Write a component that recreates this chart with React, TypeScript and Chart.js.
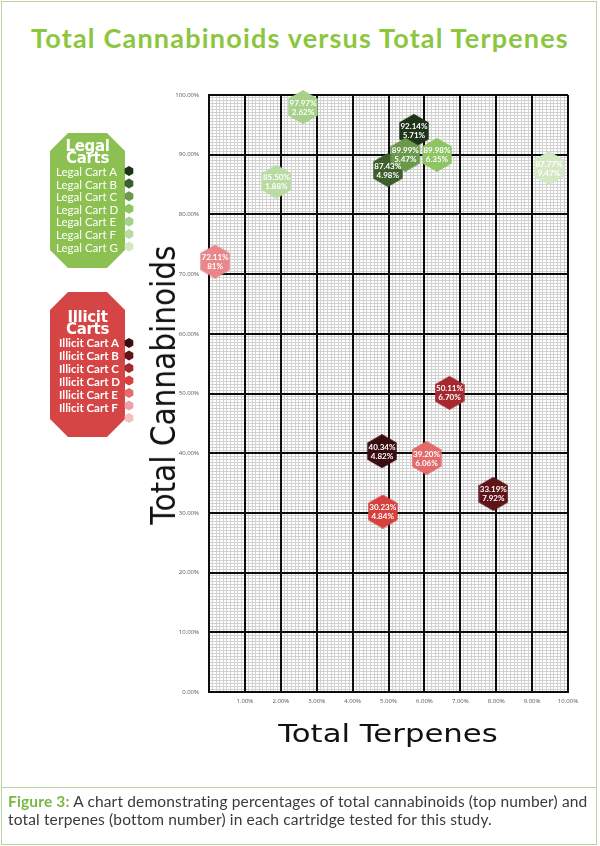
import React, { useEffect, useRef } from "react";
import { Chart, registerables } from "chart.js";
Chart.register(...registerables);

// ---------- data ----------
const xTickValues = [0, 1, 2, 3, 4, 5, 6, 7, 8, 9, 10];
const yTickValues = [0, 10, 20, 30, 40, 50, 60, 70, 80, 90, 100];

const legalNames = ["Legal Cart A", "Legal Cart B", "Legal Cart C", "Legal Cart D", "Legal Cart E", "Legal Cart F", "Legal Cart G"];
const legalCannabinoidLabels = ["92.14%", "87.43%", "89.99%", "89.98%", "97.97%", "85.50%", "87.77%"];
const legalTerpeneLabels = ["5.71%", "4.98%", "5.47%", "6.35%", "2.62%", "1.88%", "9.47%"];
// positions as plotted in the figure (terpenes %, cannabinoids %)
const legalTerpenes = [5.71, 4.98, 5.47, 6.35, 2.62, 1.88, 9.47];
const legalCannabinoids = [94.0, 87.43, 89.99, 89.98, 97.97, 85.5, 87.77];
const legalColors = ["#1f3318", "#3e5f2d", "#6a994c", "#8ec461", "#a7d08a", "#b9dba2", "#d4e8c4"];

const illicitNames = ["Illicit Cart A", "Illicit Cart B", "Illicit Cart C", "Illicit Cart D", "Illicit Cart E", "Illicit Cart F"];
const illicitCannabinoidLabels = ["40.34%", "33.19%", "50.11%", "30.23%", "39.20%", "72.11%"];
const illicitTerpeneLabels = ["4.82%", "7.92%", "6.70%", "4.84%", "6.06%", "81%"];
const illicitTerpenes = [4.82, 7.92, 6.7, 4.84, 6.06, 0.17];
const illicitCannabinoids = [40.34, 33.19, 50.11, 30.23, 39.2, 72.11];
const illicitColors = ["#3a0c10", "#5e1418", "#a4282e", "#d6403d", "#e26b6b", "#e8868a"];
const illicitLegendColors = ["#3a0c10", "#5e1418", "#a4282e", "#d6403d", "#e26b6b", "#eba1a5", "#f2bfc2"];

const GREEN = "#8cc63f";
const LEGAL_BOX = "#8cc152";
const ILLICIT_BOX = "#d64545";
const FRAME = "#b9d3a5";

function hexCanvas(color: string, r: number) {
  const w = Math.ceil(r * Math.sqrt(3));
  const h = Math.ceil(r * 2);
  const c = document.createElement("canvas");
  c.width = w;
  c.height = h;
  const ctx = c.getContext("2d")!;
  ctx.fillStyle = color;
  ctx.beginPath();
  for (let k = 0; k < 6; k++) {
    const a = (Math.PI / 180) * (-90 + 60 * k);
    const px = w / 2 + r * Math.cos(a);
    const py = h / 2 + r * Math.sin(a);
    if (k === 0) ctx.moveTo(px, py);
    else ctx.lineTo(px, py);
  }
  ctx.closePath();
  ctx.fill();
  return c;
}

const hexLabelPlugin = {
  id: "hexLabels",
  afterDatasetDraw(chart: any, args: any) {
    const ds = chart.data.datasets[args.index];
    const meta = args.meta;
    const ctx = chart.ctx;
    ctx.save();
    ctx.fillStyle = "#ffffff";
    ctx.textAlign = "center";
    ctx.textBaseline = "middle";
    ctx.font = "bold 8px Lato, 'Open Sans', sans-serif";
    meta.data.forEach((pt: any, i: number) => {
      ctx.fillText(ds.topLabels[i], pt.x, pt.y - 4);
      ctx.fillText(ds.bottomLabels[i], pt.x, pt.y + 5);
    });
    ctx.restore();
  },
};

function hexPoints(cx: number, cy: number, r: number) {
  const pts: string[] = [];
  for (let k = 0; k < 6; k++) {
    const a = (Math.PI / 180) * (-90 + 60 * k);
    pts.push(`${(cx + r * Math.cos(a)).toFixed(2)},${(cy + r * Math.sin(a)).toFixed(2)}`);
  }
  return pts.join(" ");
}

function ChartCanvas() {
  const ref = useRef<HTMLCanvasElement | null>(null);
  useEffect(() => {
    if (!ref.current) return;
    const legalImgs = legalColors.map((c) => hexCanvas(c, 17));
    const illicitImgs = illicitColors.map((c) => hexCanvas(c, 17));
    const minorGrid = { color: "#d2d2d2", lineWidth: 1, drawTicks: false, z: -2 };
    const chart = new Chart(ref.current, {
      type: "scatter",
      data: {
        datasets: [
          {
            label: "Legal Carts",
            data: legalTerpenes.map((x, i) => ({ x, y: legalCannabinoids[i] })),
            xAxisID: "x",
            yAxisID: "y",
            pointStyle: legalImgs as any,
            pointRadius: 15,
            clip: false as any,
            topLabels: legalCannabinoidLabels,
            bottomLabels: legalTerpeneLabels,
          } as any,
          {
            label: "Illicit Carts",
            data: illicitTerpenes.map((x, i) => ({ x, y: illicitCannabinoids[i] })),
            xAxisID: "x",
            yAxisID: "y",
            pointStyle: illicitImgs as any,
            pointRadius: 15,
            clip: false as any,
            topLabels: illicitCannabinoidLabels,
            bottomLabels: illicitTerpeneLabels,
          } as any,
        ],
      },
      options: {
        responsive: false,
        animation: false,
        devicePixelRatio: 1,
        events: [],
        layout: { padding: { left: 150, right: 32, top: 95, bottom: 134 } },
        plugins: { legend: { display: false }, tooltip: { enabled: false } },
        scales: {
          x: {
            type: "linear",
            position: "bottom",
            min: xTickValues[0],
            max: xTickValues[xTickValues.length - 1],
            afterBuildTicks: (s: any) => { s.ticks = xTickValues.map((v) => ({ value: v })); },
            ticks: {
              callback: (v: any) => (v === 0 ? "" : Number(v).toFixed(2) + "%"),
              font: { size: 6, family: "'Open Sans', sans-serif" },
              color: "#555",
              padding: 6,
              maxRotation: 0,
              autoSkip: false,
            },
            grid: { color: "#0d0d0d", lineWidth: 2, drawTicks: false, z: -1 },
            border: { color: "#0d0d0d", width: 2 },
            afterFit: (s: any) => { s.height = 20; },
          },
          y: {
            type: "linear",
            position: "left",
            min: yTickValues[0],
            max: yTickValues[yTickValues.length - 1],
            afterBuildTicks: (s: any) => { s.ticks = yTickValues.map((v) => ({ value: v })); },
            ticks: {
              callback: (v: any) => Number(v).toFixed(2) + "%",
              font: { size: 6, family: "'Open Sans', sans-serif" },
              color: "#555",
              padding: 10,
              autoSkip: false,
            },
            grid: { color: "#0d0d0d", lineWidth: 2, drawTicks: false, z: -1 },
            border: { color: "#0d0d0d", width: 2 },
            afterFit: (s: any) => { s.width = 59; },
          },
          xm: {
            type: "linear",
            position: "bottom",
            min: 0,
            max: 100,
            ticks: { display: false, stepSize: 1 },
            grid: minorGrid,
            border: { display: false },
            afterFit: (s: any) => { s.height = 0; },
          },
          ym: {
            type: "linear",
            position: "left",
            min: 0,
            max: 200,
            ticks: { display: false, stepSize: 1 },
            grid: minorGrid,
            border: { display: false },
            afterFit: (s: any) => { s.width = 0; },
          },
        } as any,
      },
      plugins: [hexLabelPlugin as any],
    });
    return () => chart.destroy();
  }, []);
  return (
    <canvas
      ref={ref}
      width={600}
      height={846}
      style={{ position: "absolute", left: 0, top: 0, width: 600, height: 846 }}
    />
  );
}

function LegendBox(props: {
  top: number;
  bottom: number;
  color: string;
  title: string;
  names: string[];
  markerColors: string[];
  titleY: number[];
  rowStart: number;
  rowStep: number;
  markerStart: number;
  markerStep: number;
  textLeft: number;
  itemWeight: number;
  itemSize: number;
}) {
  const { top, bottom, color } = props;
  const l = 50, r = 125, c = 18;
  const poly = `${l + c},${top} ${r - c},${top} ${r},${top + c} ${r},${bottom - c} ${r - c},${bottom} ${l + c},${bottom} ${l},${bottom - c} ${l},${top + c}`;
  return (
    <>
      <svg width={600} height={846} style={{ position: "absolute", left: 0, top: 0 }}>
        <polygon points={poly} fill={color} />
        {props.markerColors.map((mc, i) => (
          <polygon key={i} points={hexPoints(129, props.markerStart + i * props.markerStep, 5)} fill={mc} />
        ))}
      </svg>
      {[props.title, "Carts"].map((t, k) => (
        <div
          key={"t" + k}
          style={{
            position: "absolute",
            left: l,
            width: r - l,
            top: props.titleY[k] - 8,
            height: 16,
            lineHeight: "16px",
            textAlign: "center",
            color: "#fff",
            fontFamily: "'DejaVu Sans', sans-serif",
            fontWeight: 700,
            fontSize: 15,
            letterSpacing: -0.3,
          }}
        >
          {t}
        </div>
      ))}
      {props.names.map((n, i) => (
        <div
          key={n}
          style={{
            position: "absolute",
            left: props.textLeft,
            top: props.rowStart + i * props.rowStep - 7,
            height: 14,
            lineHeight: "14px",
            color: "#fff",
            fontFamily: "Lato, sans-serif",
            fontWeight: props.itemWeight,
            fontSize: props.itemSize,
            whiteSpace: "nowrap",
          }}
        >
          {n}
        </div>
      ))}
    </>
  );
}

export default function App() {
  return (
    <div style={{ position: "absolute", left: 0, top: 0, width: 600, height: 846, background: "#fff", overflow: "hidden" }}>
      {/* frame */}
      <div style={{ position: "absolute", left: 1, top: 1, width: 594, height: 842, border: `1.5px solid ${FRAME}` }} />
      <div style={{ position: "absolute", left: 1, top: 787, width: 596, height: 0, borderTop: `1.5px solid ${FRAME}` }} />

      {/* title */}
      <div
        style={{
          position: "absolute",
          left: 0,
          top: 22,
          width: 600,
          height: 32,
          lineHeight: "32px",
          textAlign: "center",
          color: GREEN,
          fontFamily: "Lato, sans-serif",
          fontWeight: 700,
          fontSize: 27,
          letterSpacing: 1.2,
          whiteSpace: "nowrap",
        }}
      >
        Total Cannabinoids versus Total Terpenes
      </div>

      <ChartCanvas />

      {/* axis titles */}
      <div
        style={{
          position: "absolute",
          left: 163 - 170,
          top: 385 - 17,
          width: 340,
          height: 34,
          lineHeight: "34px",
          textAlign: "center",
          fontFamily: "'DejaVu Sans', sans-serif",
          fontSize: 34,
          color: "#111",
          whiteSpace: "nowrap",
          transform: "rotate(-90deg) scaleX(0.87)",
        }}
      >
        Total Cannabinoids
      </div>
      <div
        style={{
          position: "absolute",
          left: 388 - 150,
          top: 734 - 15,
          width: 300,
          height: 30,
          lineHeight: "30px",
          textAlign: "center",
          fontFamily: "'DejaVu Sans', sans-serif",
          fontSize: 25,
          color: "#111",
          whiteSpace: "nowrap",
          transform: "scaleX(1.23)",
        }}
      >
        Total Terpenes
      </div>

      <LegendBox
        top={133}
        bottom={268}
        color={LEGAL_BOX}
        title="Legal"
        names={legalNames}
        markerColors={legalColors}
        titleY={[146, 158]}
        rowStart={172}
        rowStep={12.6}
        markerStart={171}
        markerStep={12.6}
        textLeft={56}
        itemWeight={400}
        itemSize={11.5}
      />
      <LegendBox
        top={292}
        bottom={437}
        color={ILLICIT_BOX}
        title="Illicit"
        names={illicitNames}
        markerColors={illicitLegendColors}
        titleY={[317, 329]}
        rowStart={343}
        rowStep={13}
        markerStart={343}
        markerStep={12.5}
        textLeft={59}
        itemWeight={700}
        itemSize={11.5}
      />

      {/* caption */}
      <div
        style={{
          position: "absolute",
          left: 8,
          top: 792,
          width: 592,
          lineHeight: "18px",
          fontFamily: "Lato, sans-serif",
          fontSize: 15.5,
          letterSpacing: 0.15,
          color: "#3a3a3a",
          whiteSpace: "nowrap",
        }}
      >
        <span style={{ color: "#7ab648", fontWeight: 700 }}>Figure 3:</span> A chart demonstrating percentages of total cannabinoids (top number) and
        <br />
        total terpenes (bottom number) in each cartridge tested for this study.
      </div>
    </div>
  );
}
